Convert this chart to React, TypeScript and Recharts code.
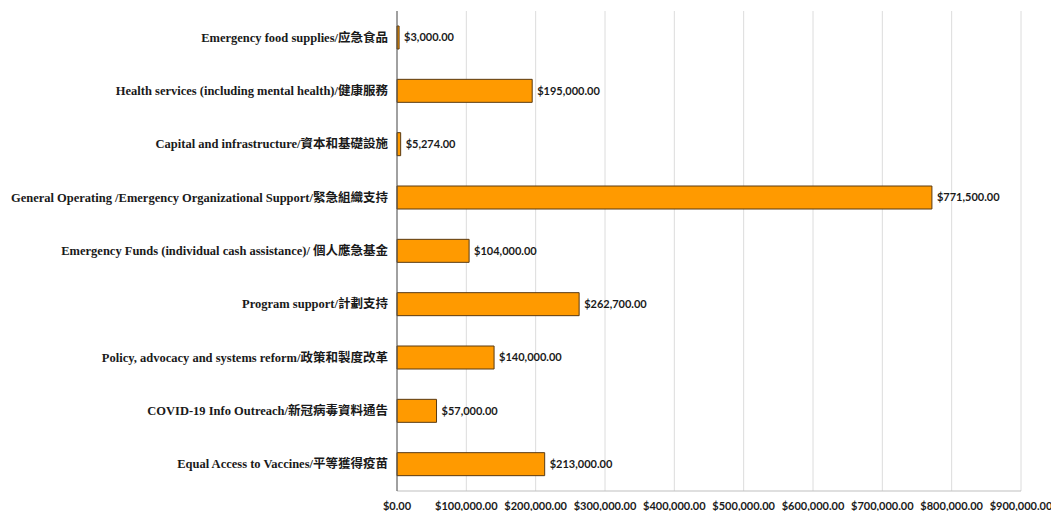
import { BarChart, Bar, XAxis, YAxis, CartesianGrid, LabelList } from "recharts";

const categories = [
  "Emergency food supplies/应急食品",
  "Health services (including mental health)/健康服務",
  "Capital and infrastructure/資本和基礎設施",
  "General Operating /Emergency Organizational Support/緊急組織支持",
  "Emergency Funds (individual cash assistance)/ 個人應急基金",
  "Program support/計劃支持",
  "Policy, advocacy and systems reform/政策和製度改革",
  "COVID-19 Info Outreach/新冠病毒資料通告",
  "Equal Access to Vaccines/平等獲得疫苗",
];

const amounts = [3000, 195000, 5274, 771500, 104000, 262700, 140000, 57000, 213000];

const xTicks = [0, 100000, 200000, 300000, 400000, 500000, 600000, 700000, 800000, 900000];

const data = categories.map((name, i) => ({ name, amount: amounts[i] }));

const money = (v: number) =>
  "$" + Number(v).toLocaleString("en-US", { minimumFractionDigits: 2, maximumFractionDigits: 2 });

function CategoryTick({ x, y, payload }: any) {
  return (
    <text
      x={x}
      y={y}
      dy={4}
      textAnchor="end"
      fill="#1a1a1a"
      style={{
        fontFamily: "'Liberation Serif', 'Noto Sans CJK TC', serif",
        fontWeight: 700,
        fontSize: 12.5,
      }}
    >
      {payload.value}
    </text>
  );
}

export default function App() {
  return (
    <div style={{ position: "absolute", left: 0, top: 0, width: 1051, height: 511, background: "#fff" }}>
      <BarChart
        width={1051}
        height={511}
        data={data}
        layout="vertical"
        margin={{ top: 11, right: 30, left: 0, bottom: 0 }}
        barSize={23}
      >
        <CartesianGrid horizontal={false} stroke="#dcdcdc" />
        <XAxis
          type="number"
          domain={[0, 900000]}
          ticks={xTicks}
          tickFormatter={money}
          axisLine={{ stroke: "#bfbfbf" }}
          tickLine={false}
          tickMargin={5}
          height={20}
          interval={0}
          tick={{ fill: "#1a1a1a", fontFamily: "Lato, sans-serif", fontWeight: 700, fontSize: 11 }}
        />
        <YAxis
          type="category"
          dataKey="name"
          width={397}
          axisLine={{ stroke: "#555" }}
          tickLine={false}
          tickMargin={3}
          interval={0}
          tick={<CategoryTick />}
        />
        <Bar dataKey="amount" fill="#ff9a00" stroke="#5a3a12" strokeWidth={1} isAnimationActive={false}>
          <LabelList
            dataKey="amount"
            position="right"
            offset={5}
            formatter={(v: any) => money(v)}
            style={{ fill: "#1a1a1a", fontFamily: "Lato, sans-serif", fontWeight: 700, fontSize: 11 }}
          />
        </Bar>
      </BarChart>
    </div>
  );
}
